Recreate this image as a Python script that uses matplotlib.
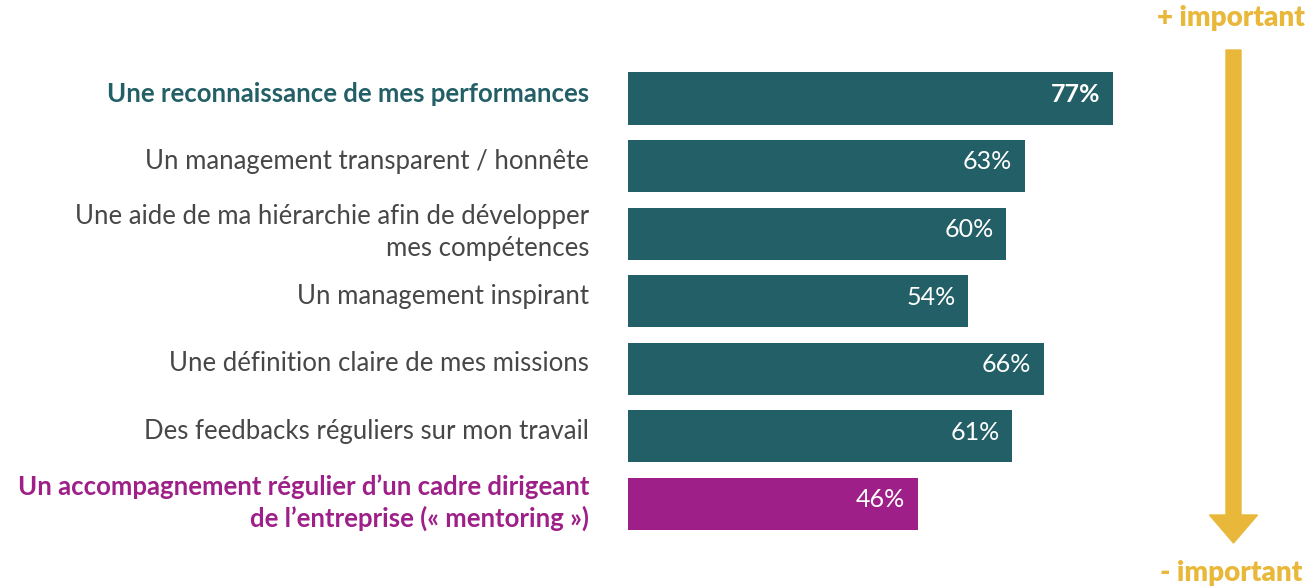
import matplotlib
matplotlib.use("Agg")
import matplotlib.pyplot as plt
from matplotlib.patches import FancyArrow

plt.rcParams['font.family'] = ['Lato', 'DejaVu Sans']

# données
labels = [
    "Une reconnaissance de mes performances",
    "Un management transparent / honnête",
    "Une aide de ma hiérarchie afin de développer\nmes compétences",
    "Un management inspirant",
    "Une définition claire de mes missions",
    "Des feedbacks réguliers sur mon travail",
    "Un accompagnement régulier d’un cadre dirigeant\nde l’entreprise (« mentoring »)",
]
values = [77, 63, 60, 54, 66, 61, 46]

teal = "#235F66"
magenta = "#9E1F87"
yellow = "#E9B83A"
grey = "#474747"

bar_colors = [teal] * 6 + [magenta]
label_colors = [teal] + [grey] * 5 + [magenta]
label_weights = ["bold"] + ["normal"] * 5 + ["bold"]

W, H = 1315, 588
fig = plt.figure(figsize=(W / 100, H / 100), dpi=100)

# axes : barre 77% de x=628 à 1113 px
left = 628 / W
width = (485 / 77 * 80) / W
ax = fig.add_axes([left, 1 - 537.8 / H, width, (537.8 - 64.7) / H])
ax.set_xlim(0, 80)
ax.set_ylim(6.5, -0.5)
ax.axis("off")

y = list(range(len(values)))
ax.barh(y, values, height=0.77, color=bar_colors)

for i, v in enumerate(values):
    ax.annotate(f"{v}%", xy=(v, i), xytext=(-9, 3), textcoords="offset points",
                ha="right", va="center", color="white", fontsize=18,
                fontweight="bold" if i == 0 else "normal")
    two = "\n" in labels[i]
    ax.annotate(labels[i], xy=(0, i), xytext=(-28, 1 if two else 3.5),
                textcoords="offset points",
                ha="right", va="center", color=label_colors[i], fontsize=18.5,
                fontweight=label_weights[i], linespacing=1.35)

# flèche + / - important
ax_x = 1233.5 / W
fig.patches.append(FancyArrow(ax_x, 1 - 50 / H, 0, -(543 - 50) / H,
                              width=15 / W, head_width=48 / W, head_length=28 / H,
                              length_includes_head=True, color=yellow,
                              transform=fig.transFigure, figure=fig))
fig.text(1231 / W, 1 - 18 / H, "+ important", ha="center", va="center",
         color=yellow, fontsize=20, fontweight="heavy")
fig.text(1231 / W, 1 - 573 / H, "- important", ha="center", va="center",
         color=yellow, fontsize=20, fontweight="heavy")

fig.savefig("out.png", dpi=100)
